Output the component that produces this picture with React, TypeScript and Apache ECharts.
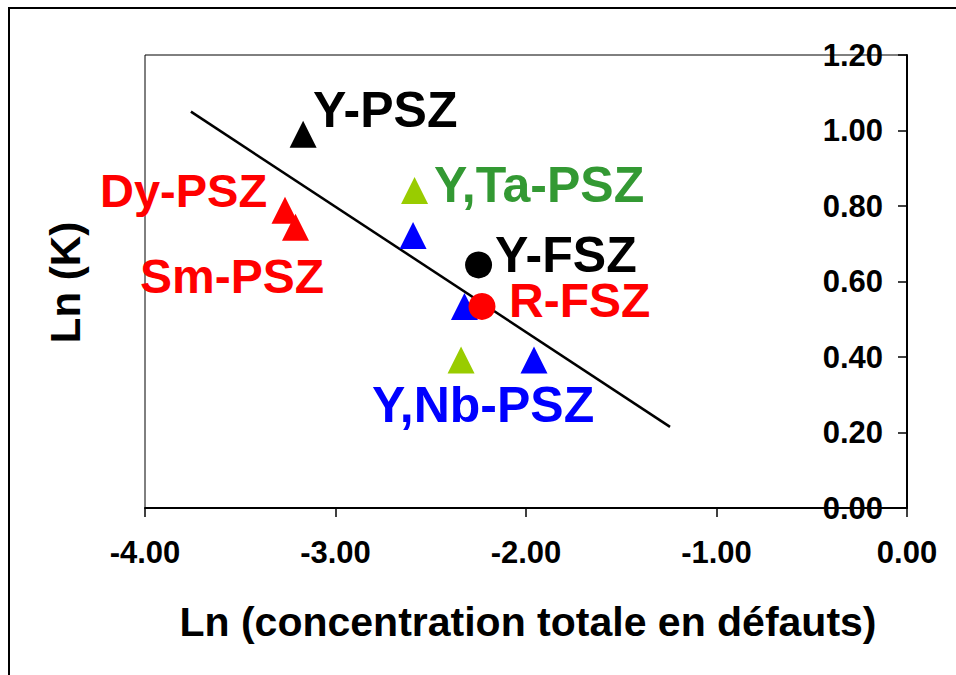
import React, { useEffect, useRef } from "react";
import * as echarts from "echarts";

// Data
const yPszBlack = [[-3.17, 0.99]];
const redTriangles = [[-3.265, 0.789], [-3.21, 0.744]];
const greenTriangles = [[-2.585, 0.841], [-2.341, 0.392]];
const blueTriangles = [[-2.593, 0.722], [-2.323, 0.534], [-1.958, 0.392]];
const yFszCircle = [[-2.249, 0.644]];
const rFszCircle = [[-2.231, 0.534]];
const trendLine = [[-3.759, 1.05], [-1.244, 0.215]];

const xTicks = { min: -4, max: 0, interval: 1 };
const yTicks = { min: 0, max: 1.2, interval: 0.2 };

const labelTexts = ["Y-PSZ", "Dy-PSZ", "Sm-PSZ", "Y,Ta-PSZ", "Y-FSZ", "R-FSZ", "Y,Nb-PSZ"];
const xAxisTitle = "Ln (concentration totale en défauts)";
const yAxisTitle = "Ln (K)";

const FONT = '"Liberation Sans", Arial, Helvetica, sans-serif';

export default function App() {
  const ref = useRef<HTMLDivElement>(null);

  useEffect(() => {
    if (!ref.current) return;
    const chart = echarts.init(ref.current, null, { renderer: "svg" });

    const labelStyle = [
      { x: 313, y: 109.7, color: "#000000", size: 50 },
      { x: 100, y: 190.7, color: "#FF0000", size: 47 },
      { x: 140, y: 276.4, color: "#FF0000", size: 48 },
      { x: 434, y: 184.7, color: "#339933", size: 50 },
      { x: 495, y: 254.7, color: "#000000", size: 50 },
      { x: 509, y: 300.4, color: "#FF0000", size: 48 },
      { x: 372, y: 404.7, color: "#0000FF", size: 50 },
    ];

    const textEl = (text: string, x: number, y: number, color: string, size: number, align = "left", rotation = 0) => ({
      type: "text",
      x,
      y,
      rotation,
      z: 100,
      style: {
        text,
        fill: color,
        font: `bold ${size}px ${FONT}`,
        align,
        verticalAlign: "middle",
        textAlign: align,
        textVerticalAlign: "middle",
      },
    });

    const scatter = (data: number[][], symbol: string, color: string, z: number) => ({
      type: "scatter",
      data,
      symbol,
      symbolSize: 27,
      z,
      itemStyle: { color, opacity: 1 },
      emphasis: { disabled: true },
    });

    chart.setOption({
      animation: false,
      backgroundColor: "#ffffff",
      grid: {
        left: 145,
        top: 55,
        right: 49,
        bottom: 167,
        show: true,
        borderColor: "#000",
        borderWidth: 1,
        backgroundColor: "transparent",
      },
      xAxis: {
        type: "value",
        min: xTicks.min,
        max: xTicks.max,
        interval: xTicks.interval,
        position: "bottom",
        axisLine: { show: true, onZero: false, lineStyle: { color: "#000", width: 2 } },
        axisTick: { show: true, inside: false, length: 9, lineStyle: { color: "#000", width: 1.5 } },
        axisLabel: {
          show: true,
          margin: 29,
          color: "#000",
          fontFamily: FONT,
          fontWeight: "bold",
          fontSize: 31,
          formatter: (v: number) => v.toFixed(2),
          showMinLabel: true,
          showMaxLabel: true,
        },
        splitLine: { show: false },
      },
      yAxis: {
        type: "value",
        min: yTicks.min,
        max: yTicks.max,
        interval: yTicks.interval,
        position: "right",
        axisLine: { show: true, onZero: false, lineStyle: { color: "#000", width: 2 } },
        axisTick: { show: true, inside: true, length: 9, lineStyle: { color: "#000", width: 1.5 } },
        axisLabel: {
          show: true,
          inside: true,
          margin: 24,
          color: "#000",
          fontFamily: FONT,
          fontWeight: "bold",
          fontSize: 31,
          formatter: (v: number) => v.toFixed(2),
          showMinLabel: true,
          showMaxLabel: true,
        },
        splitLine: { show: false },
      },
      series: [
        {
          type: "line",
          data: trendLine,
          showSymbol: false,
          symbol: "none",
          z: 2,
          lineStyle: { color: "#000", width: 2.5 },
          emphasis: { disabled: true },
        },
        scatter(yPszBlack, "triangle", "#000000", 3),
        scatter(redTriangles, "triangle", "#FF0000", 3),
        scatter(greenTriangles, "triangle", "#99CC00", 3),
        scatter(blueTriangles, "triangle", "#0000FF", 3),
        scatter(yFszCircle, "circle", "#000000", 4),
        scatter(rFszCircle, "circle", "#FF0000", 4),
      ],
      graphic: [
        {
          type: "rect",
          shape: { x: 9, y: 8, width: 980, height: 720 },
          style: { fill: "none", stroke: "#000", lineWidth: 2 },
          z: 0,
          silent: true,
        },
        ...labelTexts.map((t, i) =>
          textEl(t, labelStyle[i].x, labelStyle[i].y, labelStyle[i].color, labelStyle[i].size)
        ),
        textEl(xAxisTitle, 528, 621.8, "#000000", 41, "center"),
        textEl(yAxisTitle, 65.4, 282.5, "#000000", 42, "center", Math.PI / 2),
      ],
    });

    return () => chart.dispose();
  }, []);

  return (
    <div
      ref={ref}
      style={{ position: "fixed", left: 0, top: 0, width: 956, height: 675, background: "#fff" }}
    />
  );
}
